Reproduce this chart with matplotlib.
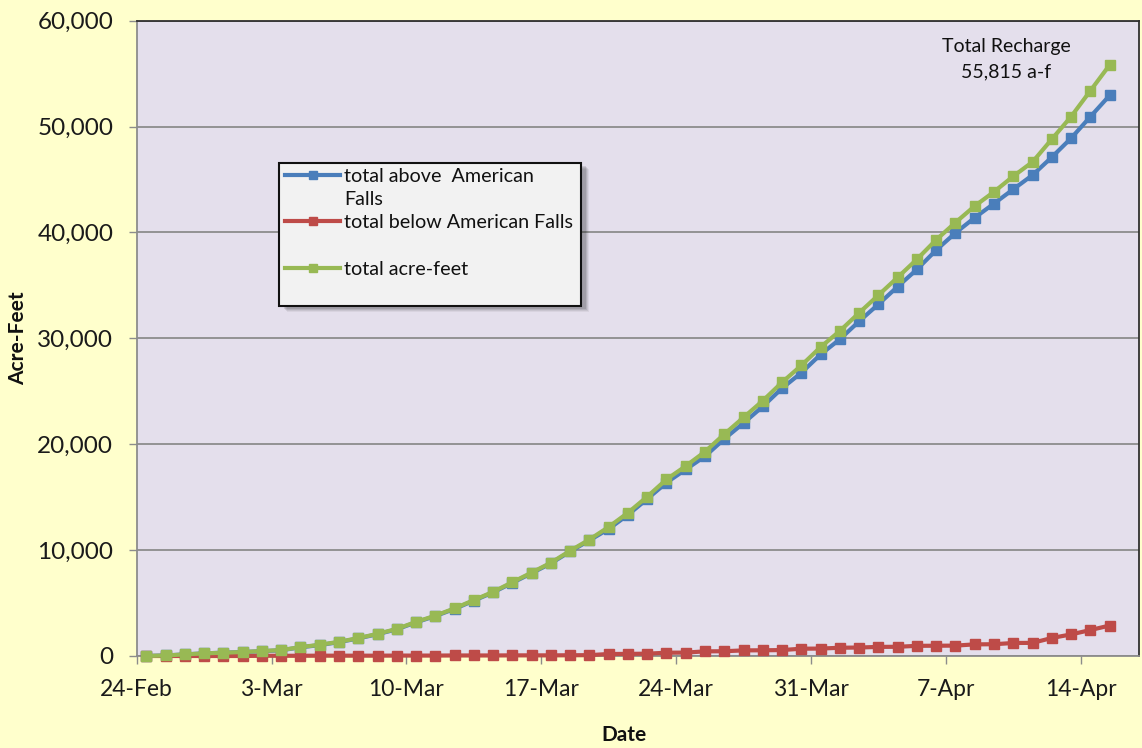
import matplotlib
matplotlib.use("Agg")
import matplotlib.pyplot as plt
from matplotlib.lines import Line2D
from matplotlib.patches import Rectangle
from matplotlib.ticker import MultipleLocator, FuncFormatter
import numpy as np

# ---------------- data (acre-feet, daily from 24-Feb to 15-Apr) ----------------
total_above_af = [0, 50, 150, 250, 310, 375, 450, 540, 820, 1030,
                  1310, 1660, 2060, 2520, 3180, 3770, 4450, 5230, 6010, 6910,
                  7820, 8750, 9870, 10920, 12000, 13330, 14830, 16370, 17620, 18860,
                  20500, 22000, 23570, 25290, 26750, 28480, 29920, 31610, 33220, 34890,
                  36510, 38340, 39960, 41400, 42730, 44080, 45420, 47110, 48900, 50930,
                  52940]
total_below_af = [0, 0, 0, 0, 0, 0, 20, 20, 20, 30,
                  30, 30, 30, 40, 40, 40, 50, 50, 50, 60,
                  60, 60, 70, 80, 190, 200, 220, 310, 320, 440,
                  450, 530, 540, 560, 690, 700, 780, 800, 860, 870,
                  960, 970, 980, 1100, 1110, 1230, 1240, 1700, 2040, 2450,
                  2875]
total_acre_feet = [0, 50, 150, 250, 310, 375, 470, 560, 840, 1060,
                   1340, 1690, 2090, 2560, 3220, 3810, 4500, 5280, 6060, 6970,
                   7880, 8810, 9940, 11000, 12190, 13530, 15050, 16680, 17940, 19300,
                   20950, 22530, 24110, 25850, 27440, 29180, 30700, 32410, 34080, 35760,
                   37470, 39310, 40940, 42500, 43840, 45310, 46660, 48810, 50940, 53380,
                   55815]
series_labels = ["total above  American\nFalls", "total below American Falls", "total acre-feet"]
tick_labels = ["24-Feb", "3-Mar", "10-Mar", "17-Mar", "24-Mar", "31-Mar", "7-Apr", "14-Apr"]
annotation_text = "Total Recharge\n55,815 a-f"

# ---------------- figure ----------------
W, H = 1142, 748
FONT = ["Lato", "DejaVu Sans"]
plt.rcParams["font.family"] = FONT

fig = plt.figure(figsize=(W / 100, H / 100), dpi=100, facecolor="#FFFFCC")

L, R, T, B = 136.7, 1138.5, 20.7, 656.0
ax = fig.add_axes([L / W, 1 - B / H, (R - L) / W, (B - T) / H])
ax.set_facecolor("#E4DFEC")

colors = ["#4A7EBB", "#BE4B48", "#98B954"]
series = [total_above_af, total_below_af, total_acre_feet]
x = np.arange(len(total_acre_feet)) + 0.5  # Excel date axis: points between tick marks
for vals, c in zip(series, colors):
    ax.plot(x, vals, color=c, lw=3.0, marker="s", ms=6.8, mec=c, mfc=c,
            solid_joinstyle="round", zorder=3, clip_on=False)

ax.set_xlim(0, 52)
ax.set_ylim(0, 60000)
ax.set_xticks(np.arange(len(tick_labels)) * 7)
ax.set_xticklabels(tick_labels)
ax.yaxis.set_major_locator(MultipleLocator(10000))
ax.yaxis.set_major_formatter(FuncFormatter(lambda v, p: f"{int(v):,}"))
ax.yaxis.grid(True, color="#8C8C8C", lw=1.3)
ax.set_axisbelow(True)

ax.tick_params(axis="both", direction="out", length=5.8, width=1.0, color="#8C8C8C",
               labelcolor="#1A1A1A")
ax.tick_params(axis="x", pad=11, labelsize=16.5)
ax.tick_params(axis="y", pad=11, labelsize=17.5)

for s in ["left", "bottom"]:
    ax.spines[s].set_color("#8C8C8C")
    ax.spines[s].set_linewidth(1.3)
for s in ["top", "right"]:
    ax.spines[s].set_color("#303030")
    ax.spines[s].set_linewidth(1.3)

ax.set_ylabel("Acre-Feet", fontsize=15, fontweight="bold", color="#111111",
              va="center", ha="center", rotation_mode="default")
ax.yaxis.set_label_coords((18 - L) / (R - L), 0.5)
ax.set_xlabel("Date", fontsize=15, fontweight="bold", color="#111111",
              va="center", ha="center")
ax.xaxis.set_label_coords((624 - L) / (R - L), -(735 - B) / (B - T))

# annotation
ax.text(45.15, 56350, annotation_text, ha="center", va="center", fontsize=14,
        linespacing=1.55, color="#111111")

# ---------------- legend (Excel style box with shadow) ----------------
def fx(px):
    return px / W

def fy(py):
    return 1 - py / H

lx0, lx1, ly0, ly1 = 279, 581, 163, 306
for i, a in enumerate([0.05, 0.07, 0.09, 0.11]):
    off = 6 - i
    fig.patches.append(Rectangle((fx(lx0 + off + 2), fy(ly1 + off)), fx(lx1 - lx0), fy(ly0) - fy(ly1),
                                 transform=fig.transFigure, facecolor="black", alpha=a,
                                 edgecolor="none", zorder=5))
fig.patches.append(Rectangle((fx(lx0), fy(ly1)), fx(lx1 - lx0), fy(ly0) - fy(ly1),
                             transform=fig.transFigure, facecolor="#F2F2F2",
                             edgecolor="#111111", lw=1.5, zorder=6))
entry_y = [175, 221, 268]
for lab, c, yy in zip(series_labels, colors, entry_y):
    fig.lines.append(Line2D([fx(285), fx(340)], [fy(yy), fy(yy)], transform=fig.transFigure,
                            color=c, lw=3.0, marker=None, zorder=7))
    fig.lines.append(Line2D([fx(312.5)], [fy(yy)], transform=fig.transFigure, color=c,
                            marker="s", ms=6.0, zorder=7))
    fig.text(fx(344), fy(yy - 7), lab, ha="left", va="top",
             fontsize=14.2, color="#111111", zorder=8, linespacing=1.45,
             transform=fig.transFigure)

fig.savefig("out.png", dpi=100, facecolor=fig.get_facecolor())
